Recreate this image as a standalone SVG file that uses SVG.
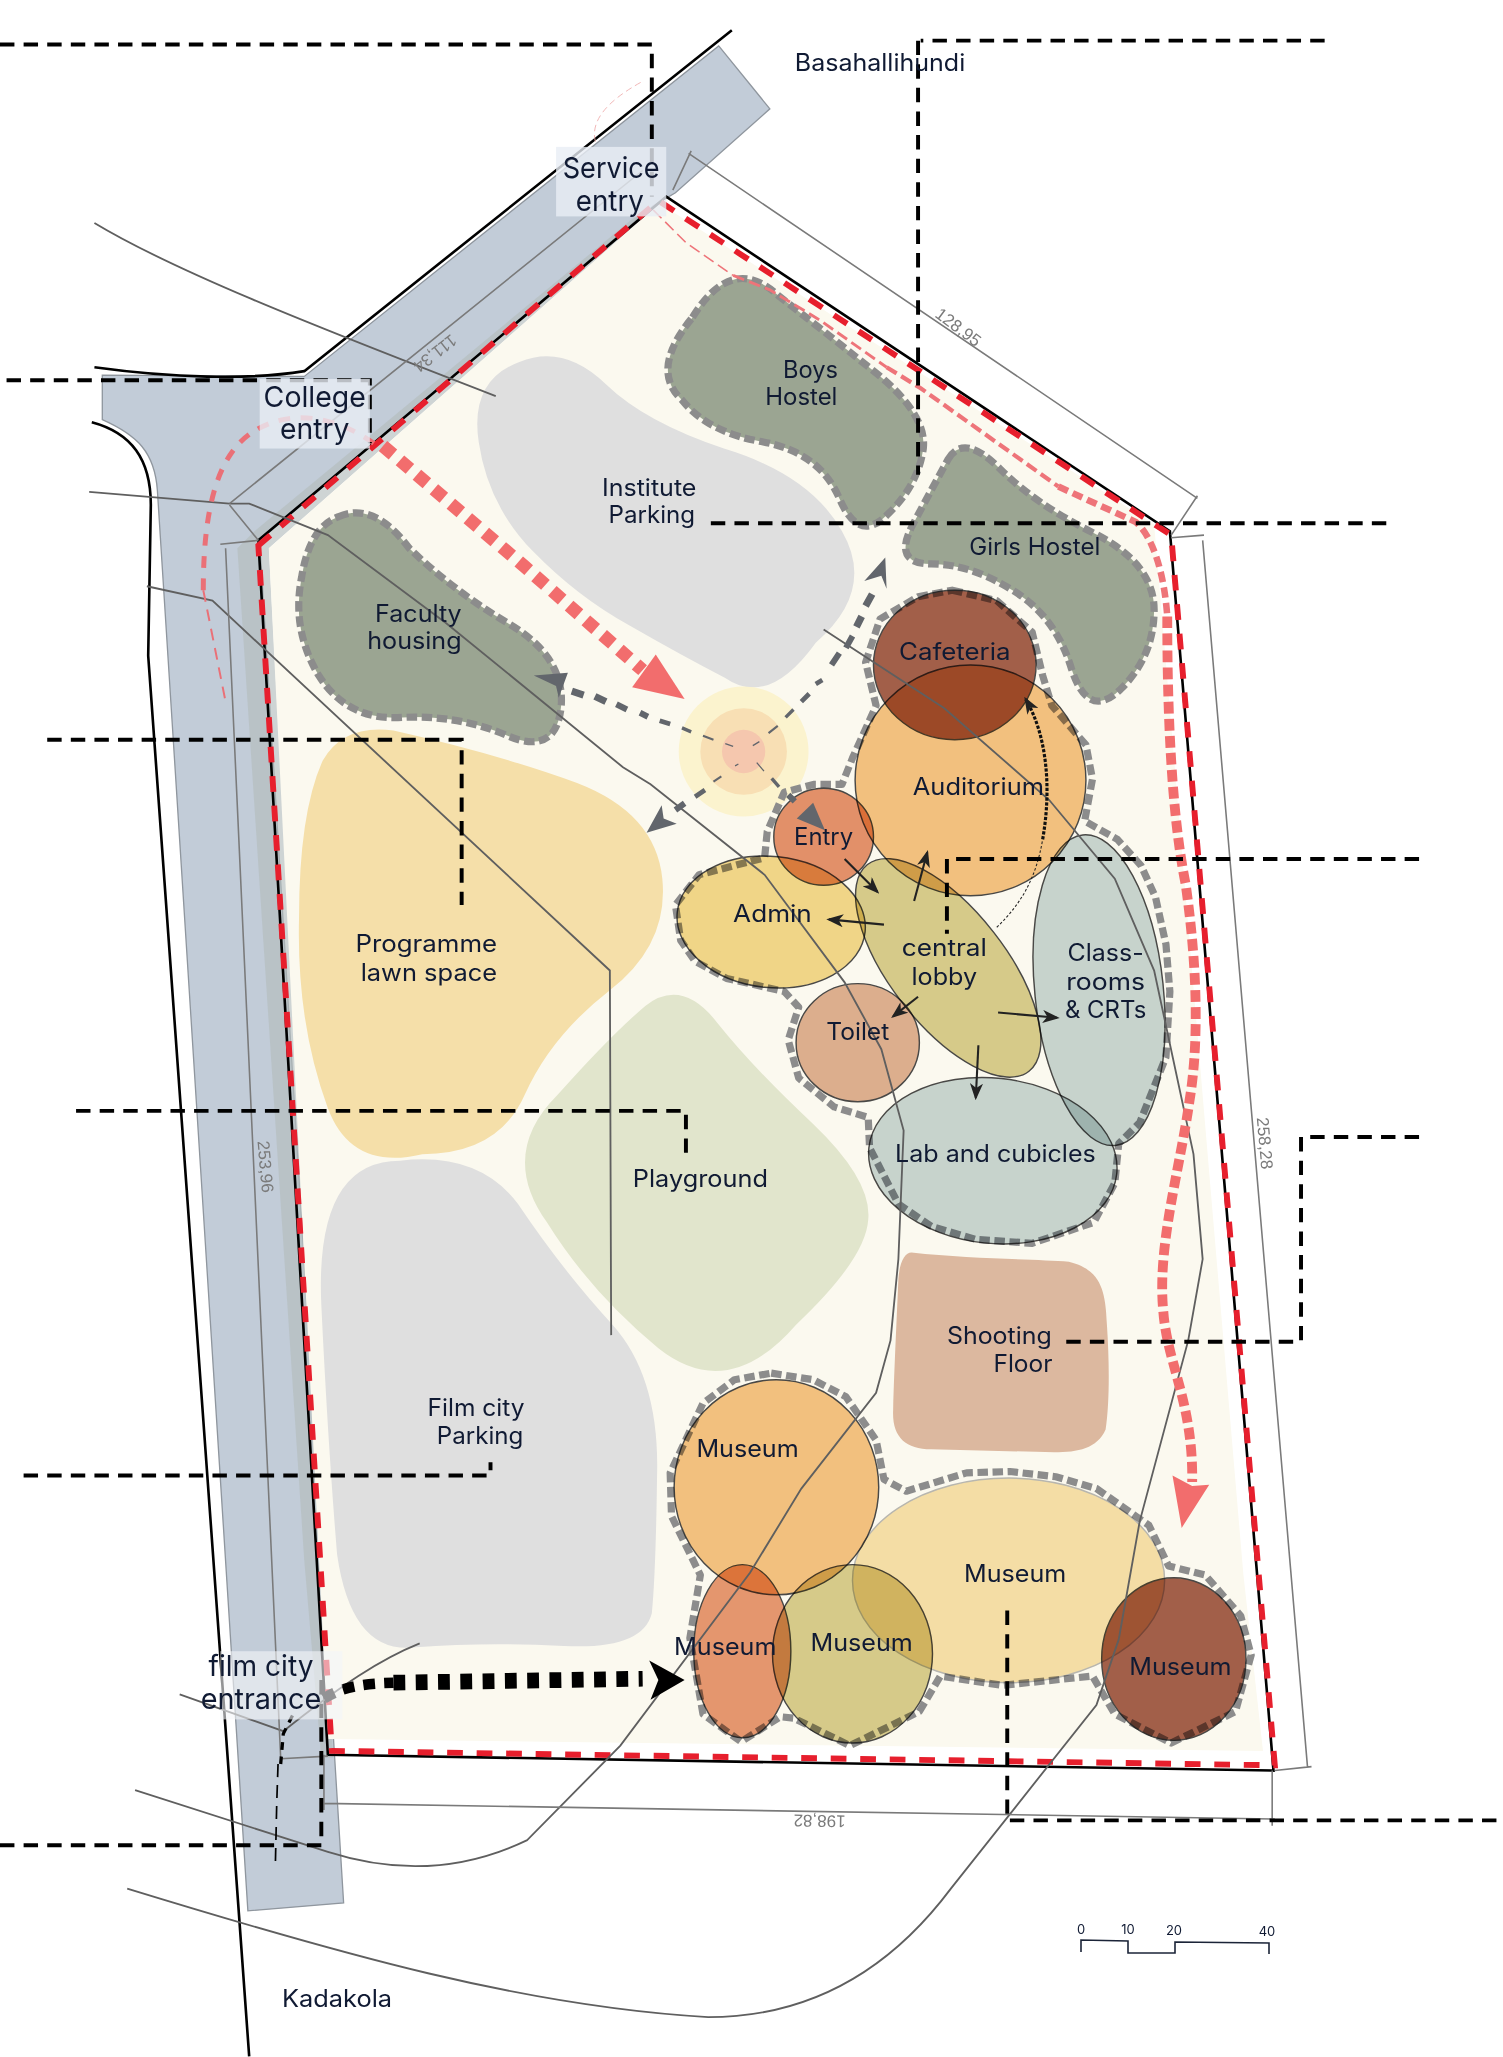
<svg xmlns="http://www.w3.org/2000/svg" width="1503" height="2057" viewBox="0 0 1503 2057">
<style>
.bg{fill:#fff}
.thin{fill:none;stroke:#5f5f5f;stroke-width:1.4}
.dim{fill:none;stroke:#7a7a7a;stroke-width:1.2}
.edge{fill:none;stroke:#000;stroke-width:2}
.lead{fill:none;stroke:#000;stroke-width:3;stroke-dasharray:11 7}
.dash{fill:none;stroke:#8c8c8c;stroke-width:5.5;stroke-dasharray:8 3.5;stroke-linejoin:round}
.hostel{fill:#9ba592}
.oval{stroke:#4a4a4a;stroke-width:1.1;mix-blend-mode:multiply}
.arr{fill:none;stroke:#222;stroke-width:1.6}
.gd{fill:none;stroke:#62666c}
.t{font-family:"Inter","Liberation Sans",sans-serif;font-size:18px;fill:#101a33;text-anchor:middle}
.big{font-size:22px}
.d{font-family:"Liberation Sans",Arial,sans-serif;font-size:13px;fill:#7b7b7b;text-anchor:middle}
.lbl{fill:#e9edf5;opacity:.8}
</style>
<defs>
<marker id="ah" viewBox="0 0 13 10" refX="11" refY="5" markerWidth="13" markerHeight="10" markerUnits="userSpaceOnUse" orient="auto"><path d="M0,0L13,5L0,10L3.5,5Z" fill="#222"/></marker>
</defs>
<rect class="bg" width="1503" height="2057"/>
<g transform="scale(1.31152)">
<g id="road">
<path d="M548,35L587,83L515,147L498,157L198,412L262,1451L189,1457L120,374C118,345 105,332 78,320L78,286L232,287Z" fill="#c2ccd8" stroke="#8f969e" stroke-width="1"/>
<path d="M482,167L194,405L181,418L232,1190L245,1340L254,1340L205,418L500,158Z" fill="#b3bdbd" opacity=".65"/>
</g>
<g id="site">
<path d="M503,155L880,400L948,1200L963,1335L250,1326L205,418Z" fill="#fbf9ef"/>
</g>
<g id="institute-parking"><path d="M396,276Q430,262 462,293Q492,322 552,342Q618,362 642,405Q668,450 622,490Q586,540 553,517Q520,500 480,477Q440,455 406,420Q372,385 365,337Q358,290 396,276Z" fill="#dfdfdf"/></g>
<g id="boys-hostel"><path class="dash hostel" d="M528,242Q558,193 593,225Q625,250 665,282Q707,315 704,342Q700,370 677,392Q655,415 640,380Q625,345 582,337Q540,330 520,305Q495,282 528,242Z"/></g>
<g id="girls-hostel"><path class="dash hostel" d="M723,350Q735,330 762,357Q790,385 835,407Q880,430 880,465Q880,500 855,525Q830,550 817,510Q805,470 772,450Q740,430 710,430Q680,430 696,400Q712,370 723,350Z"/></g>
<g id="faculty-housing"><path class="dash hostel" d="M258,394Q285,382 312,418Q345,450 387,475Q430,500 428,537Q425,577 387,561Q350,545 307,547Q265,550 243,515Q222,480 230,440Q236,402 258,394Z"/></g>
<g id="programme-lawn"><path d="M300,557Q380,575 440,597Q500,620 505,670Q510,720 465,755Q420,790 400,835Q380,880 322,880Q268,893 250,845Q226,780 228,700Q228,620 246,580Q262,552 300,557Z" fill="#f5dfa9"/></g>
<g id="playground"><path d="M547,780Q575,815 620,857Q665,900 662,930Q660,960 607,1010Q555,1070 502,1028Q450,985 417,932Q380,880 425,835Q465,790 492,767Q520,745 547,780Z" fill="#e1e5cc"/></g>
<g id="film-parking"><path d="M395,918Q430,970 467,1010Q503,1050 501,1125Q500,1200 497,1230Q490,1258 430,1255Q370,1252 317,1256Q268,1262 257,1185Q250,1100 245,995Q240,885 305,885Q365,878 395,918Z" fill="#dfdfdf"/></g>
<g id="shooting-floor"><path d="M695,955C740,960 790,960 815,962C840,968 843,985 844,1010C846,1040 846,1070 843,1090C835,1108 815,1108 790,1107L710,1105C690,1105 680,1095 681,1075C682,1040 684,1000 685,975C686,962 690,955 695,955Z" fill="#dcb89f"/></g>
<g id="centre-circles">
<circle cx="567" cy="573" r="49.5" fill="#fbf3ce"/><circle cx="567" cy="573" r="33" fill="#f8dfb4"/><circle cx="567" cy="573" r="16.5" fill="#f5c7ae"/>
</g>
<g id="cluster-outlines">
<path class="dash" d="M726,450L760,458L787,482L795,515L802,538L828,568L833,594L827,626L852,640L870,660L881,684L889,720L892,756L889,806L869,856L853,872L850,902L834,932L787,948L744,945L710,935L685,918L663,875L662,852L636,844L609,822L601,793L609,768L598,756L554,746L530,733L519,717L515,690L533,667L583,654L585,634L598,604L621,598L642,598L650,578L668,538L660,505L671,472L700,455Z"/>
<path class="dash" d="M588,1047L620,1052L645,1065L668,1098L674,1128L691,1137L737,1123L770,1122L805,1126L836,1135L876,1163L891,1194L919,1201L946,1232L954,1262L942,1305L893,1329L850,1307L833,1278L764,1285L717,1278L701,1305L648,1331L605,1310L595,1309L565,1328L536,1307L526,1249L534,1201L512,1156L511,1123L536,1070L560,1052Z"/>
</g>
<g id="auditorium"><ellipse class="oval" cx="740" cy="595" rx="88" ry="88" fill="#f6c586"/></g>
<g id="cafeteria"><ellipse class="oval" cx="728" cy="507" rx="62" ry="57" fill="#a5614e"/></g>
<g id="entry"><ellipse class="oval" cx="628" cy="638" rx="38" ry="37" fill="#e69470"/></g>
<g id="admin"><ellipse class="oval" cx="588" cy="703" rx="72" ry="50" transform="rotate(6 588 703)" fill="#f4da90"/></g>
<g id="central-lobby"><ellipse class="oval" cx="723" cy="738" rx="100" ry="44" transform="rotate(52 723 738)" fill="#dacf92"/></g>
<g id="toilet"><ellipse class="oval" cx="654" cy="795" rx="47" ry="45" fill="#e0b297"/></g>
<g id="classrooms"><ellipse class="oval" cx="838" cy="755" rx="49" ry="119" transform="rotate(-6 838 755)" fill="#cad8da"/></g>
<g id="lab"><ellipse class="oval" cx="757" cy="885" rx="95" ry="63" transform="rotate(6 757 885)" fill="#cad8da"/></g>
<g id="museum-a"><ellipse class="oval" cx="592" cy="1134" rx="78" ry="82" fill="#f6c586"/></g>
<g id="museum-d"><ellipse class="oval" cx="769" cy="1205" rx="119" ry="78" fill="#f8e3b0" style="stroke:#bbb"/></g>
<g id="museum-b"><ellipse class="oval" cx="566" cy="1259" rx="37" ry="66" fill="#e89a75"/></g>
<g id="museum-c"><ellipse class="oval" cx="650" cy="1261" rx="61" ry="68" fill="#dacf92"/></g>
<g id="museum-e"><ellipse class="oval" cx="895" cy="1265" rx="55" ry="62" fill="#a5614e"/></g>
<g id="connectors">
<!-- boundary -->
<path class="edge" d="M558,23L232,283C190,290 130,288 72,280"/>
<path class="edge" d="M70,322C100,330 115,350 115,385L113,500L190,1568"/>
<path class="edge" d="M197,412L508,150L892,405L971,1350L250,1338Z"/>
<path d="M197,416L502,153L893,408L972,1346L253,1335Z" fill="none" stroke="#e71f2d" stroke-width="4.5" stroke-dasharray="12 10.5"/>
<!-- grey site lines -->
<path class="thin" d="M72,170C130,205 230,245 378,302"/>
<path class="thin" d="M68,375L175,384L190,384L250,408L340,475L475,585L496,598L583,667L644,749L672,800L689,862L685,960L679,1022L668,1062L611,1135L572,1199L473,1331L402,1403C350,1428 300,1428 250,1412L103,1365"/>
<path class="thin" d="M112,447L162,458L465,740L466,1018"/>
<path class="thin" d="M628,480L720,540L800,610L850,670L880,740L910,880L917,960L906,1022L869,1160L853,1250L836,1300L725,1440C680,1500 620,1538 540,1538C400,1530 260,1490 97,1440"/>
<path class="thin" d="M320,1253C290,1265 260,1285 216,1320L137,1292"/>
<!-- dimension lines -->
<path class="dim" d="M175,384L490,130M175,385L197,412M168,415L197,412M172,418L214,1340M214,1341L250,1339M247,1338L247,1380M247,1375L972,1387M970,1350L970,1392"/>
<path class="dim" d="M525,117L913,380M913,378L893,408M527,115L513,145M893,410L918,408M917,412L997,1348M972,1350L1000,1347"/>
<text class="d" transform="translate(329,266) rotate(142)">111,34</text>
<text class="d" transform="translate(728,253) rotate(37)">128,95</text>
<text class="d" transform="translate(198,890) rotate(85)">253,96</text>
<text class="d" transform="translate(960,872) rotate(85)">258,28</text>
<text class="d" transform="translate(625,1384) rotate(181)">198,82</text>
<!-- red circulation -->
<path d="M292,340L400,432L490,511" fill="none" stroke="#f26d6d" stroke-width="10" stroke-dasharray="10 7"/>
<path d="M500,499L522,533L482,524Z" fill="#f26d6d"/>
<path d="M285,338C260,320 225,310 195,328C165,345 155,390 155,450" fill="none" stroke="#ea7077" stroke-width="3.8" stroke-dasharray="9 8"/>
<path d="M155,450L172,535" fill="none" stroke="#ea7077" stroke-width="1.5" stroke-dasharray="9 6"/>
<path d="M498,160L523,185L559,210" fill="none" stroke="#ee7479" stroke-width="1.2" stroke-dasharray="9 4"/>
<path d="M559,210L587,221L625,244L676,280" fill="none" stroke="#ee7479" stroke-width="2.2" stroke-dasharray="9 4"/>
<path d="M676,280L702,296L807,371" fill="none" stroke="#ee7479" stroke-width="3.2" stroke-dasharray="9 4"/>
<path d="M807,371L866,398C880,410 888,440 890,470" fill="none" stroke="#ee7479" stroke-width="5" stroke-dasharray="8 4"/>
<path d="M890,470C890,540 893,620 904,674C912,730 915,790 907,839C900,890 882,950 887,1000C890,1040 910,1070 909,1130" fill="none" stroke="#f26d6d" stroke-width="7.5" stroke-dasharray="9 4"/>
<path d="M894,1125L909,1133L922,1132L901,1165Z" fill="#f26d6d"/>
<path d="M454,108Q448,85 490,62" fill="none" stroke="#f0b0b0" stroke-width=".7" stroke-dasharray="5 3"/>
<!-- grey circulation, tapering away from the centre -->
<path class="gd" stroke-width="1" d="M553,567L559,569M574,568.5L579,565.5M577,581.5L582.5,588M560.5,584L563,582.5"/>
<path class="gd" stroke-width="1.6" d="M536,561L544,564M586,559L593,553.5M544,596L550,592"/>
<path class="gd" stroke-width="2.6" d="M520,555L527,558M599,547L605,541M588.4,593.5L594,600"/>
<path class="gd" stroke-width="3.6" d="M503,549.5L511,552M611,535L617,529M622,521.5L627,518.5M530,607.5L537.5,602.4"/>
<path class="gd" stroke-width="4.6" d="M488,543.5L494,546.5M470,537L478,541M634,507L640,498M645,494L650,485M515,617.6L522,612.5M601,606L606,611"/>
<path class="gd" stroke-width="5.4" d="M453.6,531L462,535M436,527L445,530M653,478L657,470M660,462L665,453"/>
<path d="M407,515L433,513L426,532L424,523Z" fill="#62666c"/>
<path d="M675,425L676,449L672,439L659,443Z" fill="#62666c"/>
<path d="M493,635L504.5,614L506,624L516,628Z" fill="#62666c"/>
<path d="M620,612L607.5,624L629,633Z" fill="#62666c"/>
<!-- film city entry -->
<path d="M247,1295C262,1286 275,1284 300,1283" fill="none" stroke="#000" stroke-width="8" stroke-dasharray="9 7"/>
<path d="M300,1283L490,1280" fill="none" stroke="#000" stroke-width="12" stroke-dasharray="9 8"/>
<path d="M495,1266L522,1281L496,1296L502,1281Z"/>
<path d="M223,1308L216,1322L214,1345" fill="none" stroke="#000" stroke-width="2.5" stroke-dasharray="6 5"/>
<!-- lobby arrows -->
<path class="arr" marker-end="url(#ah)" d="M644,655L669,680"/>
<path class="arr" marker-end="url(#ah)" d="M674,705L632,701"/>
<path class="arr" marker-end="url(#ah)" d="M697,687L707,650"/>
<path class="arr" marker-end="url(#ah)" d="M700,760L681,775"/>
<path class="arr" marker-end="url(#ah)" d="M761,772L806,776"/>
<path class="arr" marker-end="url(#ah)" d="M746,797L744,837"/>
<path d="M760,707C778,690 790,670 795,640" fill="none" stroke="#222" stroke-width=".8" stroke-dasharray="2 1.5"/>
<path d="M795,640C802,600 798,560 782,533" fill="none" stroke="#111" stroke-width="2.4" stroke-dasharray="2.5 1.2" marker-end="url(#ah)"/>
<!-- leaders -->
<path class="lead" d="M0,34L497,34L497,150"/>
<path class="lead" d="M1010,31L702,31M700,31L700,362"/>
<path class="lead" d="M5,290L282,290L282,338"/>
<path class="lead" d="M542,399L1060,399"/>
<path class="lead" d="M36,564L352,564L352,690"/>
<path class="lead" d="M1082,655L722,655L722,712"/>
<path class="lead" d="M58,847L523,847L523,885"/>
<path class="lead" d="M1082,867L992,867L992,1023L808,1023"/>
<path class="lead" d="M18,1125L374,1125L374,1115"/>
<path class="lead" d="M768,1228L768,1388L1145,1388"/>
<path class="lead" d="M0,1407L245,1407L245,1280"/>
<path d="M212,1345L211,1375L210,1420" fill="none" stroke="#000" stroke-width="1.3" stroke-dasharray="10 6"/>
</g>
<g id="label-plates">
<rect class="lbl" x="424" y="112" width="84" height="53"/>
<rect class="lbl" x="198" y="289" width="84" height="53"/>
<rect class="lbl" x="168" y="1259" width="93" height="52" style="opacity:.6;fill:#f4f5f9"/>
</g>
<g id="labels">
<text class="t" x="671" y="54" textLength="130" lengthAdjust="spacingAndGlyphs">Basahallihundi</text>
<text class="t big" x="466" y="136" textLength="74" lengthAdjust="spacingAndGlyphs">Service</text>
<text class="t big" x="465" y="161" textLength="52" lengthAdjust="spacingAndGlyphs">entry</text>
<text class="t big" x="240" y="310" textLength="78" lengthAdjust="spacingAndGlyphs">College</text>
<text class="t big" x="240" y="335" textLength="53" lengthAdjust="spacingAndGlyphs">entry</text>
<text class="t big" x="199" y="1278" textLength="80" lengthAdjust="spacingAndGlyphs">film city</text>
<text class="t big" x="199" y="1303" textLength="92" lengthAdjust="spacingAndGlyphs">entrance</text>
<text class="t" x="618" y="288" textLength="42" lengthAdjust="spacingAndGlyphs">Boys</text>
<text class="t" x="611" y="309" textLength="55" lengthAdjust="spacingAndGlyphs">Hostel</text>
<text class="t" x="789" y="423" textLength="100" lengthAdjust="spacingAndGlyphs">Girls Hostel</text>
<text class="t" x="495" y="378" textLength="72" lengthAdjust="spacingAndGlyphs">Institute</text>
<text class="t" x="497" y="399" textLength="66" lengthAdjust="spacingAndGlyphs">Parking</text>
<text class="t" x="728" y="503" textLength="85" lengthAdjust="spacingAndGlyphs">Cafeteria</text>
<text class="t" x="319" y="474" textLength="66" lengthAdjust="spacingAndGlyphs">Faculty</text>
<text class="t" x="316" y="495" textLength="72" lengthAdjust="spacingAndGlyphs">housing</text>
<text class="t" x="746" y="606" textLength="100" lengthAdjust="spacingAndGlyphs">Auditorium</text>
<text class="t" x="628" y="644" textLength="45" lengthAdjust="spacingAndGlyphs">Entry</text>
<text class="t" x="589" y="703" textLength="60" lengthAdjust="spacingAndGlyphs">Admin</text>
<text class="t" x="720" y="729" textLength="65" lengthAdjust="spacingAndGlyphs">central</text>
<text class="t" x="720" y="751" textLength="50" lengthAdjust="spacingAndGlyphs">lobby</text>
<text class="t" x="843" y="733" textLength="58" lengthAdjust="spacingAndGlyphs">Class-</text>
<text class="t" x="843" y="755" textLength="60" lengthAdjust="spacingAndGlyphs">rooms</text>
<text class="t" x="843" y="776" textLength="62" lengthAdjust="spacingAndGlyphs">&amp; CRTs</text>
<text class="t" x="654" y="793" textLength="48" lengthAdjust="spacingAndGlyphs">Toilet</text>
<text class="t" x="759" y="886" textLength="153" lengthAdjust="spacingAndGlyphs">Lab and cubicles</text>
<text class="t" x="325" y="726" textLength="108" lengthAdjust="spacingAndGlyphs">Programme</text>
<text class="t" x="327" y="748" textLength="104" lengthAdjust="spacingAndGlyphs">lawn space</text>
<text class="t" x="534" y="905" textLength="103" lengthAdjust="spacingAndGlyphs">Playground</text>
<text class="t" x="762" y="1025" textLength="80" lengthAdjust="spacingAndGlyphs">Shooting</text>
<text class="t" x="780" y="1046" textLength="45" lengthAdjust="spacingAndGlyphs">Floor</text>
<text class="t" x="363" y="1080" textLength="74" lengthAdjust="spacingAndGlyphs">Film city</text>
<text class="t" x="366" y="1101" textLength="66" lengthAdjust="spacingAndGlyphs">Parking</text>
<text class="t" x="570" y="1111" textLength="78" lengthAdjust="spacingAndGlyphs">Museum</text>
<text class="t" x="553" y="1262" textLength="78" lengthAdjust="spacingAndGlyphs">Museum</text>
<text class="t" x="657" y="1259" textLength="78" lengthAdjust="spacingAndGlyphs">Museum</text>
<text class="t" x="774" y="1206" textLength="78" lengthAdjust="spacingAndGlyphs">Museum</text>
<text class="t" x="900" y="1277" textLength="78" lengthAdjust="spacingAndGlyphs">Museum</text>
<text class="t" x="257" y="1530" textLength="84" lengthAdjust="spacingAndGlyphs">Kadakola</text>
</g>
</g>
<g id="scale-bar">
<path d="M1081,1952L1081,1940L1128,1941L1128,1953L1175,1953L1175,1942L1269,1943L1269,1954" fill="none" stroke="#1b2438" stroke-width="1.6"/>
<text class="t" style="font-size:13px" x="1081" y="1934">0</text>
<text class="t" style="font-size:13px" x="1128" y="1934">10</text>
<text class="t" style="font-size:13px" x="1174" y="1935">20</text>
<text class="t" style="font-size:13px" x="1267" y="1936">40</text>
</g>
</svg>
